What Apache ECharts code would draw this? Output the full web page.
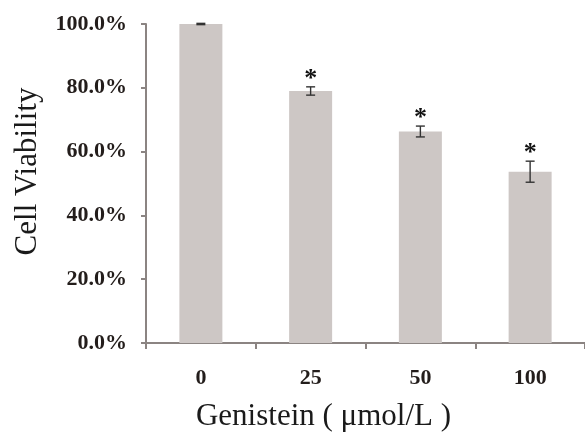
<!DOCTYPE html>
<html><head><meta charset="utf-8">
<script src="https://cdn.jsdelivr.net/npm/echarts@6/dist/echarts.min.js"></script>
<style>html,body{margin:0;padding:0;background:#fff}#c{width:585px;height:437px}</style>
</head><body><div id="c"></div>
<script>
const categories = ['0', '25', '50', '100'];
const viability = [100.0, 79.0, 66.3, 53.7];
const errors = [0.2, 1.3, 1.7, 3.3];
const significance = ['', '*', '*', '*'];
const yTicks = [0, 20, 40, 60, 80, 100];

const chart = echarts.init(document.getElementById('c'));
const axisColor = '#8b8482';
const serif = '"Liberation Serif", "Times New Roman", serif';
chart.setOption({
  animation: false,
  grid: {left: 146, right: 0, top: 24, bottom: 89},
  xAxis: {
    type: 'category', data: categories,
    name: 'Genistein ( \u03bcmol/L )', nameLocation: 'middle', nameGap: 58,
    nameTextStyle: {fontFamily: serif, fontSize: 31, color: '#1a1a1a', padding: [0, 84, 0, 0]},
    axisLine: {lineStyle: {color: axisColor, width: 2}},
    axisTick: {show: true, length: 6, lineStyle: {color: axisColor, width: 2}},
    axisLabel: {fontFamily: serif, fontWeight: 'bold', fontSize: 22, color: '#231d1b', margin: 24}
  },
  yAxis: {
    type: 'value', min: 0, max: 100, interval: 20,
    name: 'Cell Viability', nameLocation: 'middle', nameGap: 103,
    nameTextStyle: {fontFamily: serif, fontSize: 31, color: '#1a1a1a', padding: [0, 0, 0, 24]},
    axisLine: {show: true, lineStyle: {color: axisColor, width: 2}},
    axisTick: {show: true, length: 5, lineStyle: {color: axisColor, width: 2}},
    splitLine: {show: false},
    axisLabel: {fontFamily: serif, fontWeight: 'bold', fontSize: 22, color: '#231d1b', margin: 19,
      formatter: v => yTicks.includes(v) ? v.toFixed(1) + '%' : ''}
  },
  series: [
    {type: 'bar', data: viability, barWidth: 43,
     itemStyle: {color: '#cdc7c5'}},
    {type: 'custom', z: 10,
     data: viability.map((v, i) => [i, v, errors[i]]),
     renderItem: (params, api) => {
       const x = api.coord([api.value(0), 0])[0];
       const hi = api.coord([api.value(0), api.value(1) + api.value(2)])[1];
       const lo = api.coord([api.value(0), api.value(1) - api.value(2)])[1];
       const w = 4.5;
       const st = {stroke: '#333', lineWidth: 1.4};
       const children = [
         {type: 'line', shape: {x1: x, y1: hi, x2: x, y2: lo}, style: st},
         {type: 'line', shape: {x1: x - w, y1: hi, x2: x + w, y2: hi}, style: st},
         {type: 'line', shape: {x1: x - w, y1: lo, x2: x + w, y2: lo}, style: st}
       ];
       const s = significance[params.dataIndex];
       if (s) children.push({type: 'text', x: x, y: hi + 5,
         style: {text: s, fontFamily: serif, fontWeight: 'bold', fontSize: 26, fill: '#111',
                  align: 'center', verticalAlign: 'bottom'}});
       return {type: 'group', children};
     }}
  ]
});
</script></body></html>
